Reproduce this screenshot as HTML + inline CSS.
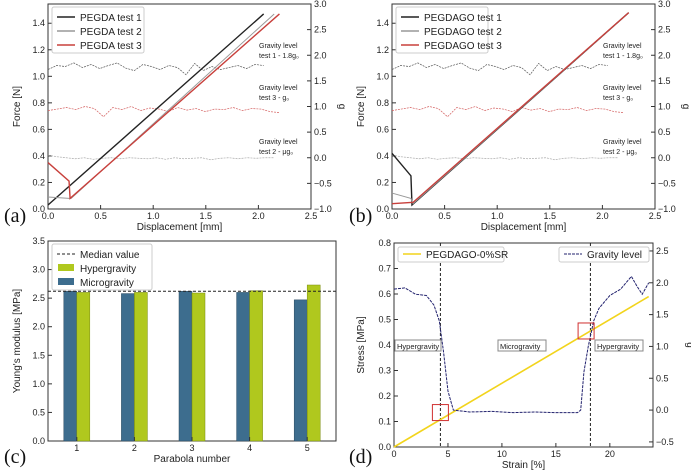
<!DOCTYPE html><html><head><meta charset="utf-8"><style>
body{margin:0;background:#fff}svg{display:block;font-family:"Liberation Sans",sans-serif}
</style></head><body>
<svg id="s" width="691" height="472" viewBox="0 0 691 472"></svg>
<script>
// ---- data ----
const aT1X=[0,2.05],aT1Y=[0.03,1.47];
const aT2X=[0,0.2,0.22,2.15],aT2Y=[0.09,0.08,0.08,1.47];
const aT3X=[0,0.2,0.21,2.2],aT3Y=[0.35,0.21,0.08,1.47];
const bT1X=[0,0.18,0.19,2.25],bT1Y=[0.42,0.25,0.03,1.48];
const bT2X=[0,0.18,0.2,2.25],bT2Y=[0.12,0.08,0.04,1.48];
const bT3X=[0,0.2,2.25],bT3Y=[0.04,0.05,1.48];
const g1=[1.72,1.8,1.78,1.85,1.76,1.82,1.74,1.8,1.85,1.75,1.7,1.82,1.78,1.72,1.8,1.76,1.62,1.84,1.7,1.78,1.72,1.76,1.8,1.74,1.82,1.8];
const g3=[0.92,0.95,0.98,0.94,1.0,0.96,0.8,0.98,0.94,1.0,0.92,0.97,0.95,0.9,0.98,0.93,0.96,0.9,0.95,0.94,0.98,0.92,0.96,0.95,0.9,0.88];
const g2=[0.05,0.02,0.0,-0.02,0.0,-0.03,-0.01,0.0,-0.02,0.0,-0.01,-0.02,0.0,-0.03,0.0,-0.02,-0.01,0.0,-0.04,-0.01,0.0,-0.02,0.0,-0.01,0.0,0.0];
const parabolas=["1","2","3","4","5"];
const micro=[2.62,2.58,2.62,2.6,2.47];
const hyper=[2.6,2.6,2.59,2.63,2.73];
const median=2.62;
const dStrain=[0,1,2,3,3.7,4.2,4.6,5,5.5,7,9,11,13,15,17,17.3,17.6,18,18.5,19,19.5,20,21,22,22.5,23,23.6];
const dGrav=[1.9,1.92,1.82,1.8,1.65,1.4,0.9,0.3,0.0,-0.03,-0.02,-0.04,-0.03,-0.04,-0.04,0.0,0.6,1.0,1.4,1.6,1.7,1.8,1.9,2.1,1.95,1.82,2.0];
const dStressX=[0,23.6],dStressY=[0,0.59];
// ---- helpers ----
const S=document.getElementById('s'),NS='http://www.w3.org/2000/svg';
function el(t,a,p){const e=document.createElementNS(NS,t);for(const k in a)e.setAttribute(k,a[k]);(p||S).appendChild(e);return e;}
function txt(x,y,s,a){const e=el('text',Object.assign({x:x,y:y,'font-size':9,fill:'#222'},a||{}));e.textContent=s;return e;}
function sc(d0,d1,r0,r1){return v=>r0+(v-d0)/(d1-d0)*(r1-r0);}
function frame(L,T,R,B,name){const r=el('rect',{x:L,y:T,width:R-L,height:B-T,fill:'none',stroke:'#333','stroke-width':1});}
function ticksY(y,vals,x,side,fmt){vals.forEach(v=>{const yy=y(v);el('line',{x1:x,x2:x+(side<0?4:-4),y1:yy,y2:yy,stroke:'#333'});const t=txt(side<0?x-3:x+3,yy+3,fmt(v),{'text-anchor':side<0?'end':'start'});});}
function ticksX(x,vals,y,fmt){vals.forEach(v=>{const xx=x(v);el('line',{x1:xx,x2:xx,y1:y,y2:y-4,stroke:'#333'});const t=txt(xx,y+10,fmt(v),{'text-anchor':'middle'});});}
function line(xs,ys,x,y,st,name){const p=el('polyline',Object.assign({points:xs.map((v,i)=>x(v)+','+y(ys[i])).join(' '),fill:'none'},st));}
function series(arr,x0,x1){return arr.map((v,i)=>x0+i*(x1-x0)/(arr.length-1));}
const f1=v=>v.toFixed(1);
function forcePanel(L,R,T,B,lab,names,tr,labs){
 const x=sc(0,2.5,L,R),y=sc(0,1.545,B,T),yg=sc(-1,3,B,T);
 frame(L,T,R,B,lab+'-plot-area');
 ticksY(y,[0,0.2,0.4,0.6,0.8,1.0,1.2,1.4],L,-1,f1);
 ticksY(yg,[-1,-0.5,0,0.5,1,1.5,2,2.5,3],R,1,v=>(v<0?'−'+Math.abs(v).toFixed(1):v.toFixed(1)));
 ticksX(x,[0,0.5,1,1.5,2,2.5],B,f1);
 txt(L+(R-L)/2,B+21,'Displacement [mm]',{'text-anchor':'middle','font-size':10});
 txt(0,0,'Force [N]',{'text-anchor':'middle','font-size':10,transform:`translate(${L-28},${(T+B)/2}) rotate(-90)`});
 txt(0,0,'g',{'text-anchor':'middle','font-size':10,transform:`translate(${R+28},${(T+B)/2}) rotate(90)`});
 line(series(g1,0,2.05),g1,x,yg,{stroke:'#555','stroke-width':0.7,'stroke-dasharray':'2,1'},lab+'-gravity-test1');
 line(series(g3,0,2.2),g3,x,yg,{stroke:'#d46060','stroke-width':0.7,'stroke-dasharray':'2,1'},lab+'-gravity-test3');
 line(series(g2,0,2.15),g2,x,yg,{stroke:'#aaa','stroke-width':0.7,'stroke-dasharray':'2,1'},lab+'-gravity-test2');
 tr.forEach((t,i)=>line(t[0],t[1],x,y,{stroke:['#222','#999','#c8403c'][i],'stroke-width':i==1?1:1.4},lab+'-test'+(i+1)));
 el('rect',{x:L+4,y:T+3,width:92,height:46,fill:'#fff',stroke:'#ccc',rx:2});
 names.forEach((n,i)=>{el('line',{x1:L+9,x2:L+27,y1:T+13+i*14,y2:T+13+i*14,stroke:['#222','#999','#c8403c'][i],'stroke-width':1.4});txt(L+32,T+17+i*14,n,{'font-size':10});});
 labs.forEach((l,i)=>{txt(R-52,[T+44,T+86,T+140][i],'Gravity level',{'font-size':7});txt(R-52,[T+54,T+96,T+150][i],l,{'font-size':7});});
}
forcePanel(48,311,4,209,'panel-a',['PEGDA test 1','PEGDA test 2','PEGDA test 3'],[[aT1X,aT1Y],[aT2X,aT2Y],[aT3X,aT3Y]],['test 1 - 1.8g₀','test 3 - g₀','test 2 - μg₀']);
forcePanel(392,655,4,209,'panel-b',['PEGDAGO test 1','PEGDAGO test 2','PEGDAGO test 3'],[[bT1X,bT1Y],[bT2X,bT2Y],[bT3X,bT3Y]],['test 1 - 1.8g₀','test 3 - g₀','test 2 - μg₀']);
// panel c
(function(){const L=48,R=336,T=241,B=441;const y=sc(0,3.5,B,T);const bw=(R-L)/5;
 frame(L,T,R,B,'panel-c-plot-area');
 ticksY(y,[0,0.5,1,1.5,2,2.5,3,3.5],L,-1,f1);
 parabolas.forEach((p,i)=>{const cx=L+bw*(i+0.5);
  const r1=el('rect',{x:cx-13,y:y(micro[i]),width:13,height:B-y(micro[i]),fill:'#3d6d8e',stroke:'#2a4a60','stroke-width':0.5});
  const r2=el('rect',{x:cx,y:y(hyper[i]),width:13,height:B-y(hyper[i]),fill:'#b0c81e',stroke:'#7a8c10','stroke-width':0.5});
  el('line',{x1:cx,x2:cx,y1:B,y2:B-4,stroke:'#333'});txt(cx,B+10,p,{'text-anchor':'middle'});});
 el('line',{x1:L,x2:R,y1:y(median),y2:y(median),stroke:'#222','stroke-dasharray':'3,2'});
 txt((L+R)/2,B+21,'Parabola number',{'text-anchor':'middle','font-size':10});
 txt(0,0,"Young's modulus [MPa]",{'text-anchor':'middle','font-size':10,transform:`translate(${L-28},${(T+B)/2}) rotate(-90)`});
 el('rect',{x:L+4,y:T+3,width:100,height:46,fill:'#fff',stroke:'#ccc',rx:2});
 el('line',{x1:L+9,x2:L+27,y1:T+13,y2:T+13,stroke:'#222','stroke-dasharray':'3,2'});txt(L+32,T+17,'Median value',{'font-size':10});
 el('rect',{x:L+10,y:T+23,width:16,height:7,fill:'#b0c81e'});txt(L+32,T+31,'Hypergravity',{'font-size':10});
 el('rect',{x:L+10,y:T+37,width:16,height:7,fill:'#3d6d8e'});txt(L+32,T+45,'Microgravity',{'font-size':10});
})();
// panel d
(function(){const L=394,R=653,T=243,B=447;const x=sc(0,24,L,R),y=sc(0,0.8,B,T),yg=sc(-0.58,2.625,B,T);
 frame(L,T,R,B,'panel-d-plot-area');
 ticksY(y,[0,0.1,0.2,0.3,0.4,0.5,0.6,0.7,0.8],L,-1,f1);
 ticksY(yg,[-0.5,0,0.5,1,1.5,2,2.5],R,1,v=>(v<0?'−'+Math.abs(v).toFixed(1):v.toFixed(1)));
 ticksX(x,[0,5,10,15,20],B,v=>String(v));
 txt((L+R)/2,B+21,'Strain [%]',{'text-anchor':'middle','font-size':10});
 txt(0,0,'Stress [MPa]',{'text-anchor':'middle','font-size':10,transform:`translate(${L-30},${(T+B)/2}) rotate(-90)`});
 txt(0,0,'g',{'text-anchor':'middle','font-size':10,transform:`translate(${R+34},${(T+B)/2}) rotate(90)`});
 [4.3,18.2].forEach(v=>el('line',{x1:x(v),x2:x(v),y1:T,y2:B,stroke:'#222','stroke-dasharray':'3,2'}));
 line(dStressX,dStressY,x,y,{stroke:'#f2d41c','stroke-width':1.6},'stress-line');
 line(dStrain,dGrav,x,yg,{stroke:'#22226e','stroke-width':1,'stroke-dasharray':'3,1'},'gravity-line');
 [[4.3,0.135],[17.8,0.455]].forEach(c=>el('rect',{x:x(c[0])-8,y:y(c[1])-8,width:16,height:16,fill:'none',stroke:'#d03030','stroke-width':1}));
 [[395,'Hypergravity',46],[498,'Microgravity',48],[595,'Hypergravity',48]].forEach(b=>{el('rect',{x:b[0],y:340,width:b[2],height:11,fill:'#fff',stroke:'#888'});txt(b[0]+2,349,b[1],{'font-size':7.5});});
 el('rect',{x:L+4,y:T+4,width:106,height:15,fill:'#fff',stroke:'#ccc',rx:2});
 el('line',{x1:L+9,x2:L+27,y1:T+11,y2:T+11,stroke:'#f2d41c','stroke-width':1.6});txt(L+32,T+15,'PEGDAGO-0%SR',{'font-size':10});
 el('rect',{x:R-94,y:T+4,width:90,height:15,fill:'#fff',stroke:'#ccc',rx:2});
 el('line',{x1:R-89,x2:R-71,y1:T+11,y2:T+11,stroke:'#22226e','stroke-dasharray':'3,1'});txt(R-66,T+15,'Gravity level',{'font-size':10});
})();
[['(a)',4,222],['(b)',349,222],['(c)',4,463],['(d)',349,463]].forEach(p=>{const t=txt(p[1],p[2],p[0],{'font-size':20,'font-family':'Liberation Serif,serif',fill:'#111'});});
</script></body></html>
